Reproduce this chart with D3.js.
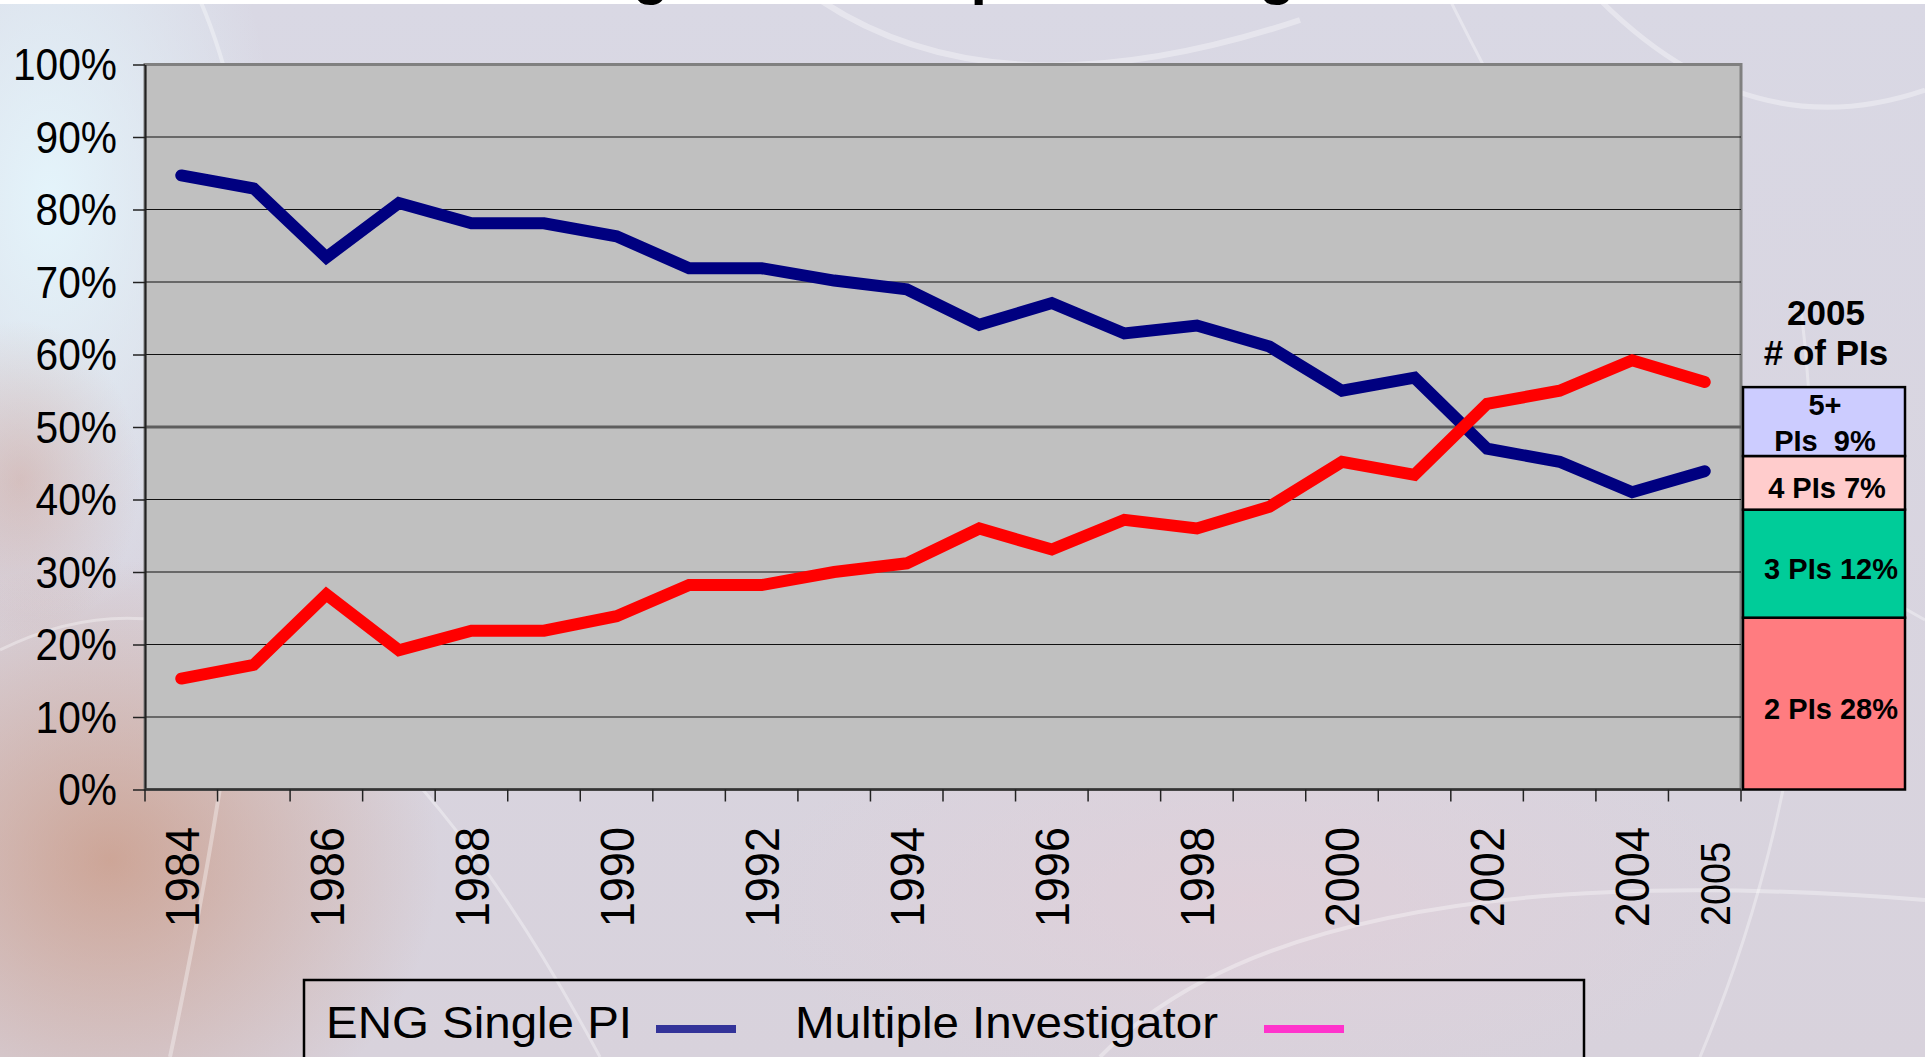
<!DOCTYPE html>
<html>
<head>
<meta charset="utf-8">
<title>ENG Single PI vs Multiple Investigator</title>
<style>
  body { margin: 0; overflow: hidden; background: #d6d3df; }
  svg { display: block; font-family: "Liberation Sans", Arial, Helvetica, sans-serif; }
  .grid line { stroke: #111; stroke-width: 1.2px; }
  .seg-label { font-weight: bold; font-size: 29px; white-space: pre; }
  .panel-head { font-weight: bold; font-size: 35px; }
</style>
</head>
<body>
<svg width="1925" height="1057"></svg>
<script src="https://d3js.org/d3.v7.min.js"></script>
<script>

// ---- data ----
var years = [1984, 1985, 1986, 1987, 1988, 1989, 1990, 1991, 1992, 1993, 1994,
             1995, 1996, 1997, 1998, 1999, 2000, 2001, 2002, 2003, 2004, 2005];
var yearLabels = ["1984", "", "1986", "", "1988", "", "1990", "", "1992", "", "1994",
                  "", "1996", "", "1998", "", "2000", "", "2002", "", "2004", "2005"];
var singlePI = [84.7, 82.9, 73.4, 80.9, 78.1, 78.1, 76.3, 71.9, 71.9, 70.2, 69.0,
                64.1, 67.1, 62.9, 64.0, 61.1, 55.0, 56.8, 47.0, 45.2, 41.0, 43.9];
var multiPI  = [15.3, 17.2, 26.9, 19.2, 21.9, 21.9, 23.9, 28.2, 28.2, 30.0, 31.2,
                36.0, 33.1, 37.2, 36.0, 39.0, 45.2, 43.4, 53.2, 55.0, 59.2, 56.2];
var yTicks = [0, 10, 20, 30, 40, 50, 60, 70, 80, 90, 100];

// 2005 breakdown box (segment heights as drawn, bottom to top)
var piSegHeights = [23.7, 14.9, 7.4, 9.5];
var piSegLabels  = [" 2 PIs 28%", " 3 PIs 12%", "4 PIs 7%", "5+\nPIs  9%"];
var piSegColors  = ["#ff7c80", "#00cc99", "#ffcccc", "#ccccff"];

var legendNames  = ["ENG Single PI", "Multiple Investigator"];
var legendColors = ["#333399", "#ff33cc"];

var svg = d3.select("svg"),
    width = +svg.attr("width"),
    height = +svg.attr("height");

// ---- background ----
var defs = svg.append("defs");

function radial(id, color, op) {
  var g = defs.append("radialGradient").attr("id", id);
  g.append("stop").attr("offset", "0%").attr("stop-color", color).attr("stop-opacity", op);
  g.append("stop").attr("offset", "100%").attr("stop-color", color).attr("stop-opacity", 0);
}
var lg = defs.append("linearGradient").attr("id", "bgbase")
    .attr("x1", 0).attr("y1", 0).attr("x2", 0).attr("y2", 1);
lg.append("stop").attr("offset", "0%").attr("stop-color", "#d9d8e4");
lg.append("stop").attr("offset", "100%").attr("stop-color", "#d8d2dc");
radial("cyan", "#e4f4fb", 1);
radial("orange", "#c4805e", 0.55);
radial("orange2", "#c99080", 0.4);
radial("pink", "#e2cfd8", 0.7);

svg.append("rect").attr("width", width).attr("height", height).attr("fill", "url(#bgbase)");
svg.append("ellipse").attr("cx", 50).attr("cy", 200).attr("rx", 230).attr("ry", 420).attr("fill", "url(#cyan)");
svg.append("ellipse").attr("cx", 110).attr("cy", 860).attr("rx", 330).attr("ry", 300).attr("fill", "url(#orange)");
svg.append("ellipse").attr("cx", 20).attr("cy", 480).attr("rx", 120).attr("ry", 160).attr("fill", "url(#orange2)");
svg.append("ellipse").attr("cx", 1250).attr("cy", 900).attr("rx", 500).attr("ry", 200).attr("fill", "url(#pink)");

// faint white wisps
var wisps = svg.append("g").attr("fill", "none").attr("stroke", "#fff").attr("stroke-opacity", 0.35);
[["M 200 0 Q 330 300 170 1057", 4], ["M 820 0 Q 1000 120 1300 20", 6],
 ["M 1450 0 Q 1700 500 1925 620", 3], ["M 1800 300 Q 1850 700 1700 1057", 3],
 ["M 0 650 Q 300 500 600 1057", 3], ["M 1100 1057 Q 1300 850 1925 900", 4],
 ["M 1600 0 Q 1750 150 1925 90", 5]].forEach(function(w) {
  wisps.append("path").attr("d", w[0]).attr("stroke-width", w[1]);
});

// white strip + cut-off title
svg.append("rect").attr("width", width).attr("height", 4).attr("fill", "#fff");
svg.append("text")
    .attr("x", 541).attr("y", -7)
    .attr("font-size", 59).attr("font-weight", "bold")
    .text("Single vs. Multiple Investigator");

// ---- scales ----
var x = d3.scaleBand().domain(years).range([145, 1741]),
    y = d3.scaleLinear().domain([0, 100]).range([789.5, 64.5]),
    bw = x.bandwidth();

// plot area
svg.append("rect")
    .attr("x", x.range()[0]).attr("y", y(100))
    .attr("width", x.range()[1] - x.range()[0]).attr("height", y(0) - y(100))
    .attr("fill", "#c0c0c0").attr("stroke", "#808080").attr("stroke-width", 3);

// gridlines
svg.append("g").attr("class", "grid")
  .selectAll("line")
  .data(yTicks.filter(function(d) { return d > 0 && d < 100; }))
  .enter().append("line")
    .attr("x1", x.range()[0]).attr("x2", x.range()[1])
    .attr("y1", function(d) { return y(d); })
    .attr("y2", function(d) { return y(d); })
    .style("stroke", function(d) { return d === 50 ? "#5e5e5e" : null; })
    .style("stroke-width", function(d) { return d === 50 ? "3px" : null; });

// y axis
var yAxis = svg.append("g")
    .attr("transform", "translate(" + x.range()[0] + ",0)")
    .call(d3.axisLeft(y).tickValues(yTicks).tickSize(12).tickSizeOuter(0)
      .tickFormat(function(d) { return d + "%"; }));
yAxis.select(".domain").attr("stroke", "#222").attr("stroke-width", 2);
yAxis.selectAll(".tick line").attr("stroke", "#222").attr("stroke-width", 1.5);
yAxis.selectAll(".tick text")
    .attr("x", 0).attr("dy", null)
    .attr("fill", "#000")
    .attr("font-size", 44)
    .attr("font-family", "'Liberation Sans', Arial, sans-serif")
    .attr("transform", "translate(-28,15) scale(0.925,1)");

// x axis: baseline + ticks at band edges
var xg = svg.append("g");
xg.append("line")
    .attr("x1", x.range()[0]).attr("x2", x.range()[1])
    .attr("y1", y(0)).attr("y2", y(0))
    .attr("stroke", "#333").attr("stroke-width", 2.5);
xg.selectAll(".xtick")
  .data(years.map(function(d) { return x(d); }).concat([x.range()[1]]))
  .enter().append("line")
    .attr("class", "xtick")
    .attr("x1", function(d) { return d; }).attr("x2", function(d) { return d; })
    .attr("y1", y(0)).attr("y2", y(0) + 12)
    .attr("stroke", "#222").attr("stroke-width", 1.5);

xg.selectAll(".xlabel")
  .data(years.filter(function(d, i) { return yearLabels[i] !== ""; }))
  .enter().append("text")
    .attr("class", "xlabel")
    .attr("text-anchor", "end")
    .attr("dy", "0.36em")
    .attr("font-size", function(d) { return d === 2005 ? 42 : 48; })
    .attr("transform", function(d) {
      var cx = x(d) + bw / 2, top = 827, s = 0.94;
      if (d === 2005) { cx += 10; top = 842; s = 0.9; }
      return "translate(" + cx + "," + top + ") rotate(-90) scale(" + s + ",1)";
    })
    .text(function(d) { return yearLabels[years.indexOf(d)]; });

// ---- lines ----
var line = d3.line()
    .x(function(d, i) { return x(years[i]) + bw / 2; })
    .y(function(d) { return y(d); });

[[singlePI, "#000080"], [multiPI, "#ff0000"]].forEach(function(s) {
  svg.append("path")
      .datum(s[0])
      .attr("d", line)
      .attr("fill", "none")
      .attr("stroke", s[1])
      .attr("stroke-width", 12)
      .attr("stroke-linecap", "round")
      .attr("stroke-linejoin", "miter");
});

// ---- 2005 # of PIs box ----
var bx0 = 1743, bx1 = 1905, bcx = (bx0 + bx1) / 2;
svg.append("text").attr("class", "panel-head")
    .attr("x", 1826).attr("y", 325).attr("text-anchor", "middle").text("2005");
svg.append("text").attr("class", "panel-head")
    .attr("x", 1826).attr("y", 365).attr("text-anchor", "middle").text("# of PIs");

var tops = d3.cumsum(piSegHeights);
var seg = svg.append("g").selectAll("g")
  .data(piSegHeights)
  .enter().append("g");

seg.append("rect")
    .attr("x", bx0)
    .attr("width", bx1 - bx0)
    .attr("y", function(d, i) { return y(tops[i]); })
    .attr("height", function(d, i) { return y(tops[i] - d) - y(tops[i]); })
    .attr("fill", function(d, i) { return piSegColors[i]; })
    .attr("stroke", "#000").attr("stroke-width", 2.5);

seg.append("text")
    .attr("class", "seg-label")
    .attr("text-anchor", "middle")
    .each(function(d, i) {
      var mid = (y(tops[i]) + y(tops[i] - d)) / 2,
          lines = piSegLabels[i].split("\n"),
          t = d3.select(this);
      if (lines.length === 1) {
        t.attr("x", bcx + 3).attr("y", mid + 15).text(lines[0]);
      } else {
        lines.forEach(function(l, k) {
          t.append("tspan").attr("x", bcx + 1).attr("y", mid - 7 + k * 36).text(l);
        });
      }
    });

// ---- legend ----
var leg = svg.append("g");
leg.append("rect")
    .attr("x", 304).attr("y", 980).attr("width", 1280).attr("height", 120)
    .attr("fill", "none").attr("stroke", "#000").attr("stroke-width", 2.5);
var legX = [326, 795], legLen = [306, 423], swX = [656, 1264];
legendNames.forEach(function(n, i) {
  leg.append("text")
      .attr("x", legX[i]).attr("y", 1038)
      .attr("font-size", 44)
      .attr("textLength", legLen[i]).attr("lengthAdjust", "spacingAndGlyphs")
      .text(n);
  leg.append("line")
      .attr("x1", swX[i]).attr("x2", swX[i] + 80)
      .attr("y1", 1029).attr("y2", 1029)
      .attr("stroke", legendColors[i]).attr("stroke-width", 8);
});

</script>
</body>
</html>
